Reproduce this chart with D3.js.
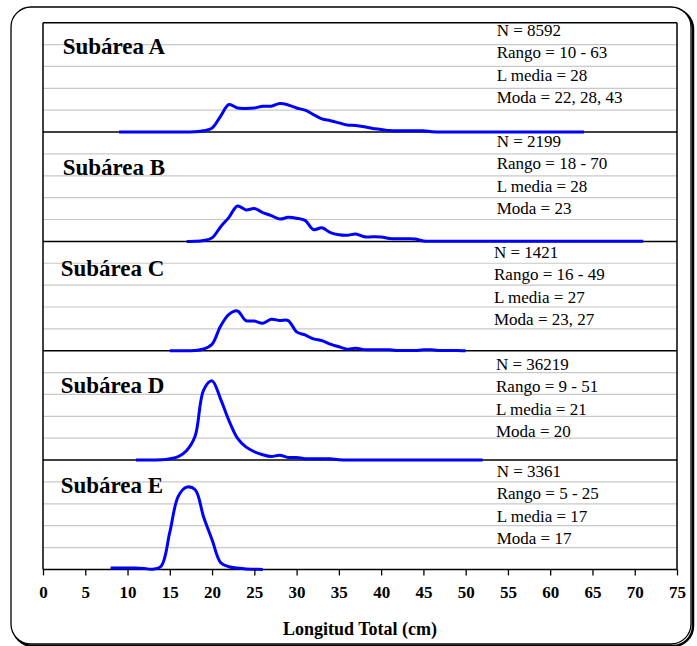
<!DOCTYPE html>
<html>
<head>
<meta charset="utf-8">
<script src="https://cdn.jsdelivr.net/npm/d3@7"></script>
<style>
  html, body { margin: 0; padding: 0; background: #ffffff; }
  svg { display: block; }
  text { font-family: "Liberation Serif", "Times New Roman", serif; }
</style>
</head>
<body>
<script>
// ---------------- DATA ----------------
const panelNames = ["Subárea A", "Subárea B", "Subárea C", "Subárea D", "Subárea E"];
const nLabels = ["N = 8592", "N = 2199", "N = 1421", "N = 36219", "N = 3361"];
const rangoLabels = ["Rango = 10 - 63", "Rango = 18 - 70", "Rango = 16 - 49", "Rango = 9 - 51", "Rango = 5 - 25"];
const mediaLabels = ["L media = 28", "L media = 28", "L media = 27", "L media = 21", "L media = 17"];
const modaLabels = ["Moda = 22, 28, 43", "Moda = 23", "Moda = 23, 27", "Moda = 20", "Moda = 17"];

// first length class (cm) of each series
const seriesStart = [9, 17, 15, 11, 8];

// relative frequency (%) by 1-cm length class
const seriesA = [0, 0.02, 0.02, 0.02, 0.02, 0.02, 0.02, 0.02, 0.02, 0.05, 0.3, 0.9, 3.6, 6.3, 5.5, 5.4, 5.5, 5.9, 5.9, 6.5, 6.2, 5.5, 5.0, 4.0, 3.0, 2.6, 2.1, 1.6, 1.5, 1.2, 0.8, 0.6, 0.35, 0.3, 0.3, 0.3, 0.3, 0.05, 0.03, 0.03, 0.03, 0.03, 0.03, 0.03, 0.03, 0.03, 0.03, 0.03, 0.03, 0.03, 0.03, 0.03, 0.03, 0.03, 0.03, 0.02];
const seriesB = [0, 0.02, 0.2, 0.8, 3.3, 5.5, 8.1, 7.2, 7.5, 6.6, 5.9, 5.1, 5.5, 5.3, 4.8, 2.7, 3.1, 2.0, 1.5, 1.4, 1.7, 1.05, 1.05, 1.0, 0.65, 0.6, 0.6, 0.55, 0.1, 0.05, 0.05, 0.05, 0.05, 0.05, 0.05, 0.05, 0.05, 0.05, 0.05, 0.05, 0.05, 0.05, 0.05, 0.05, 0.05, 0.05, 0.05, 0.05, 0.05, 0.05, 0.05, 0.05, 0.05, 0.05, 0.02];
const seriesC = [0, 0.02, 0.02, 0.05, 0.4, 1.5, 5.6, 8.3, 9.1, 6.9, 6.8, 6.3, 7.2, 6.9, 6.9, 4.3, 3.6, 2.7, 2.3, 1.5, 0.9, 0.35, 0.55, 0.25, 0.2, 0.2, 0.2, 0.05, 0.05, 0.05, 0.2, 0.2, 0.05, 0.05, 0.05, 0];
const seriesD = [0, 0.02, 0.02, 0.05, 0.3, 0.8, 2.2, 5.5, 16.0, 18.1, 14.0, 9.0, 5.0, 3.0, 1.9, 1.2, 0.8, 1.1, 0.6, 0.6, 0.3, 0.3, 0.3, 0.3, 0.05, 0.03, 0.03, 0.03, 0.03, 0.03, 0.03, 0.03, 0.03, 0.03, 0.03, 0.03, 0.03, 0.03, 0.03, 0.03, 0.03, 0];
const seriesE = [0.3, 0.3, 0.3, 0.3, 0.2, 0.05, 0.8, 8.5, 16.7, 18.8, 18.2, 12.0, 6.8, 1.6, 0.6, 0.3, 0.1, 0.05, 0];

const xTicks = [0, 5, 10, 15, 20, 25, 30, 35, 40, 45, 50, 55, 60, 65, 70, 75];
const yGrid = [5, 10, 15, 20];
const xTitle = "Longitud Total (cm)";

// ---------------- LAYOUT ----------------
const W = 697, H = 646;
const plotLeft = 43, plotRight = 677, plotTop = 22.7, plotBottom = 569.4;
const nPanels = 5;
const panelH = (plotBottom - plotTop) / nPanels;
const labelPos = [[62.7, 31], [62.7, 43], [60.7, 35], [60.7, 42.6], [60.7, 32.7]];
const statPos = [[496.7, 13], [496.7, 14.7], [494, 16.4], [496, 19.3], [496.7, 16.7]];
const statLineH = 22.4;

const allSeries = [seriesA, seriesB, seriesC, seriesD, seriesE];

const svg = d3.select("body").append("svg").attr("width", W).attr("height", H);

// outer rounded frame with shadow
svg.append("rect")
  .attr("x", 13).attr("y", 9).attr("width", 680).attr("height", 637)
  .attr("rx", 20).attr("fill", "none").attr("stroke", "#000").attr("stroke-width", 2.5);
svg.append("rect")
  .attr("x", 11).attr("y", 7).attr("width", 680).attr("height", 637)
  .attr("rx", 20).attr("fill", "#fff").attr("stroke", "#000").attr("stroke-width", 1.3);

const x = d3.scaleLinear().domain([0, 75]).range([plotLeft, plotRight]);

const line = d3.line().curve(d3.curveCatmullRom.alpha(0.5));

allSeries.forEach((vals, i) => {
  const top = plotTop + i * panelH;
  const bottom = top + panelH;
  const y = d3.scaleLinear().domain([0, 25]).range([bottom, top]);
  const g = svg.append("g");

  // gridlines
  g.selectAll("line.grid").data(yGrid).join("line")
    .attr("x1", plotLeft).attr("x2", plotRight)
    .attr("y1", d => y(d)).attr("y2", d => y(d))
    .attr("stroke", "#c8c8c8").attr("stroke-width", 1.2);

  // panel baseline
  g.append("line")
    .attr("x1", plotLeft).attr("x2", plotRight)
    .attr("y1", y(0)).attr("y2", y(0))
    .attr("stroke", "#000").attr("stroke-width", 1.5);

  if (i === 0) {
    g.append("line")
      .attr("x1", plotLeft).attr("x2", plotRight)
      .attr("y1", y(25)).attr("y2", y(25))
      .attr("stroke", "#000").attr("stroke-width", 1.5);
  }

  // panel label
  g.append("text")
    .attr("x", labelPos[i][0]).attr("y", top + labelPos[i][1])
    .attr("font-size", 23).attr("font-weight", "bold").attr("fill", "#000")
    .text(panelNames[i]);

  // stats
  const stats = [nLabels[i], rangoLabels[i], mediaLabels[i], modaLabels[i]];
  g.selectAll("text.stat").data(stats).join("text")
    .attr("x", statPos[i][0])
    .attr("y", (d, k) => top + statPos[i][1] + k * statLineH)
    .attr("font-size", 17).attr("fill", "#000")
    .text(d => d);

  // curve
  const pts = vals.map((v, k) => [x(seriesStart[i] + k), y(v)]);
  g.append("path")
    .attr("d", line(pts))
    .attr("fill", "none").attr("stroke", "#0000ff").attr("stroke-width", 3)
    .attr("stroke-linejoin", "round");
});

// left and right borders
svg.append("line").attr("x1", plotLeft).attr("x2", plotLeft)
  .attr("y1", plotTop).attr("y2", plotBottom).attr("stroke", "#000").attr("stroke-width", 1.5);
svg.append("line").attr("x1", plotRight).attr("x2", plotRight)
  .attr("y1", plotTop).attr("y2", plotBottom).attr("stroke", "#000").attr("stroke-width", 1.5);

// x axis
const axis = d3.axisBottom(x).tickValues(xTicks).tickSize(6).tickPadding(11);
const ax = svg.append("g").attr("transform", `translate(0,${plotBottom})`).call(axis);
ax.select(".domain").remove();
ax.selectAll(".tick line").attr("stroke", "#000").attr("stroke-width", 1.3);
ax.selectAll(".tick text")
  .attr("font-family", "'Liberation Serif', 'Times New Roman', serif")
  .attr("font-size", 17).attr("font-weight", "bold").attr("fill", "#000");

svg.append("text")
  .attr("x", (plotLeft + plotRight) / 2).attr("y", 635)
  .attr("text-anchor", "middle")
  .attr("font-size", 18).attr("font-weight", "bold").attr("fill", "#000")
  .text(xTitle);
</script>
</body>
</html>
